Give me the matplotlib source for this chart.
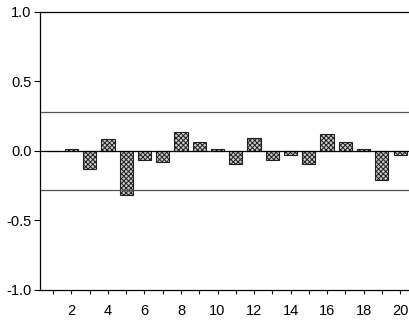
import numpy as np
import matplotlib
matplotlib.use("Agg")
import matplotlib.pyplot as plt

# autocorrelation values by lag
lags = list(range(1, 21))
acf = [0.0, 0.015, -0.13, 0.085, -0.32, -0.065, -0.077, 0.135, 0.063, 0.01,
       -0.095, 0.095, -0.065, -0.03, -0.095, 0.12, 0.067, 0.01, -0.21, -0.03]
band = 0.28
xtick_labels = [str(i) if i % 2 == 0 else "" for i in lags]
yticks = [-1.0, -0.5, 0.0, 0.5, 1.0]

plt.rcParams['font.family'] = ['Liberation Sans', 'DejaVu Sans']
plt.rcParams['hatch.linewidth'] = 0.7
plt.rcParams['hatch.color'] = '#333333'

fig = plt.figure(figsize=(4.1, 3.2), dpi=100)
ax = fig.add_axes([0.0976, 0.094, 0.905, 0.869])

ax.bar(lags, acf, width=0.72, facecolor='#c8c8c8', edgecolor='#222222',
       hatch='xxxxxxx', linewidth=0.8)
ax.axhline(0, color='black', lw=0.9)
ax.axhline(band, color='#555555', lw=0.9)
ax.axhline(-band, color='#555555', lw=0.9)

ax.set_xlim(0.28, 20.6)
ax.set_ylim(-1.0, 1.0)
ax.set_xticks(lags)
ax.set_xticklabels(xtick_labels)
ax.set_yticks(yticks)
ax.set_yticklabels([f"{v:.1f}" for v in yticks])
ax.tick_params(direction='out', length=4, width=0.8, labelsize=10.5, colors='black')
ax.tick_params(axis='x', length=3, pad=7)
ax.tick_params(axis='y', pad=2)
ax.spines['right'].set_visible(False)
for s in ['left', 'bottom', 'top']:
    ax.spines[s].set_linewidth(0.9)

fig.savefig("out.png", dpi=100)
